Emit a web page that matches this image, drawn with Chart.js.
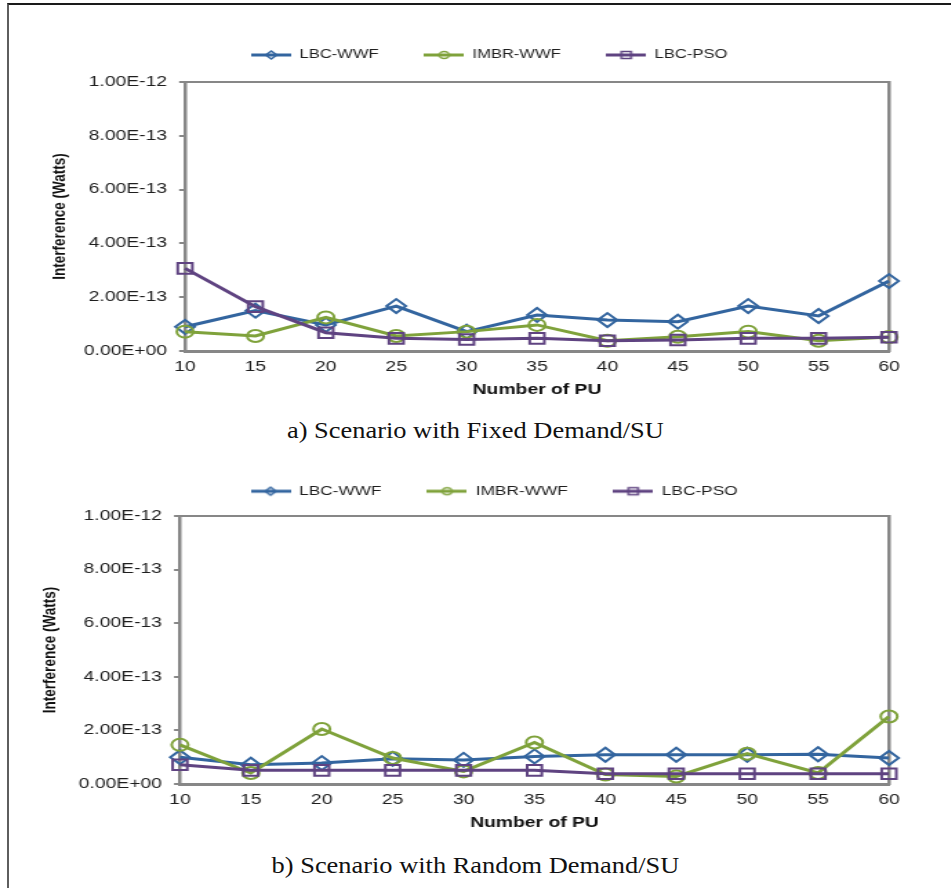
<!DOCTYPE html>
<html>
<head>
<meta charset="utf-8">
<script src="https://cdn.jsdelivr.net/npm/chart.js@4.4.1/dist/chart.umd.min.js"></script>
<style>
    html, body { margin: 0; padding: 0; background: #fff; width: 951px; height: 888px; overflow: hidden; }
    .frame { position: absolute; left: 7px; top: 3px; right: -20px; bottom: -20px; border-top: 2px solid #1a1a1a; border-left: 2px solid #5e5e5e; }
    .panel { position: absolute; left: 0; transform-origin: 0 0; transform: scaleX(1.38); }
    .caption { position: absolute; left: 0; width: 951px; text-align: center; font-family: 'Liberation Serif', 'Times New Roman', serif; font-size: 24px; line-height: 28px; color: #111; transform: scaleX(1.1); transform-origin: 476px 0; }
</style>
</head>
<body>
<div class="frame"></div>
<div class="panel" style="top:0px;width:709px;height:401px"><canvas id="chartFixed"></canvas></div>
<div class="caption" style="top:416px">a) Scenario with Fixed Demand/SU</div>
<div class="panel" style="top:440px;width:716px;height:394px"><canvas id="chartRandom"></canvas></div>
<div class="caption" style="top:851px">b) Scenario with Random Demand/SU</div>
<script>
// number of primary users (x axis)
const puValues = [10, 15, 20, 25, 30, 35, 40, 45, 50, 55, 60];

// a) fixed demand / SU
const fixedLbcWwf = [0.90e-13, 1.50e-13, 0.97e-13, 1.67e-13, 0.72e-13, 1.34e-13, 1.15e-13, 1.09e-13, 1.67e-13, 1.30e-13, 2.60e-13];
const fixedImbrWwf = [0.72e-13, 0.56e-13, 1.25e-13, 0.56e-13, 0.72e-13, 0.97e-13, 0.38e-13, 0.53e-13, 0.72e-13, 0.38e-13, 0.52e-13];
const fixedLbcPso = [3.07e-13, 1.65e-13, 0.68e-13, 0.47e-13, 0.43e-13, 0.47e-13, 0.38e-13, 0.41e-13, 0.47e-13, 0.47e-13, 0.51e-13];

// b) random demand / SU
const randomLbcWwf = [1.00e-13, 0.72e-13, 0.78e-13, 0.94e-13, 0.90e-13, 1.03e-13, 1.09e-13, 1.09e-13, 1.09e-13, 1.11e-13, 0.97e-13];
const randomImbrWwf = [1.46e-13, 0.41e-13, 2.05e-13, 0.97e-13, 0.47e-13, 1.55e-13, 0.35e-13, 0.28e-13, 1.13e-13, 0.41e-13, 2.52e-13];
const randomLbcPso = [0.72e-13, 0.51e-13, 0.51e-13, 0.51e-13, 0.51e-13, 0.51e-13, 0.38e-13, 0.38e-13, 0.38e-13, 0.38e-13, 0.38e-13];

const yTicks = [0, 2e-13, 4e-13, 6e-13, 8e-13, 1e-12];

const seriesNames = ['LBC-WWF', 'IMBR-WWF', 'LBC-PSO'];
const seriesColors = ['#33659f', '#7fa23b', '#5f4381'];
const seriesMarkers = ['rectRot', 'circle', 'rect'];
const markerRadius = [7, 6, 7.5];

const axisGray = '#878787';
const textColor = '#1e1e1e';
const PLOT_RIGHT = 644.2;

Chart.defaults.font.family = "'Liberation Sans', Arial, sans-serif";

const formatSci = (v) => {
    const [m, e] = Number(v).toExponential(2).split('e');
    const sign = e[0] === '-' ? '-' : '+';
    return m + 'E' + sign + e.replace(/[+-]/, '').padStart(2, '0');
};

// line + marker sample, like the excel legend
const makeLegendIcon = (color, marker) => {
    const icon = document.createElement('canvas');
    icon.width = 29;
    icon.height = 12;
    const ctx = icon.getContext('2d');
    ctx.strokeStyle = color;
    ctx.lineWidth = 3;
    ctx.beginPath();
    ctx.moveTo(0, 6);
    ctx.lineTo(29, 6);
    ctx.stroke();
    ctx.lineWidth = 1.5;
    ctx.beginPath();
    if (marker === 'rectRot') {
        ctx.moveTo(14.5, 2); ctx.lineTo(18.5, 6); ctx.lineTo(14.5, 10); ctx.lineTo(10.5, 6); ctx.closePath();
    } else if (marker === 'circle') {
        ctx.arc(14.5, 6, 3.5, 0, Math.PI * 2);
    } else {
        ctx.rect(11, 2.5, 7, 7);
    }
    ctx.stroke();
    return icon;
};
const legendIcons = seriesColors.map((c, i) => makeLegendIcon(c, seriesMarkers[i]));

const legendHeight = (h) => ({
    id: 'legendHeight',
    beforeInit(chart) {
        const fit = chart.legend.fit;
        chart.legend.fit = function () {
            fit.call(this);
            this.height = h;
        };
    }
});

const createConfig = (series, lay) => ({
    type: 'line',
    data: {
        labels: puValues,
        datasets: series.map((values, i) => ({
            label: seriesNames[i],
            data: values,
            borderColor: seriesColors[i],
            borderWidth: 3,
            tension: 0,
            pointStyle: seriesMarkers[i],
            pointRadius: markerRadius[i],
            pointBorderWidth: 2,
            pointBorderColor: seriesColors[i],
            pointBackgroundColor: 'rgba(0,0,0,0)',
            clip: false,
            order: 3 - i
        }))
    },
    plugins: [legendHeight(lay.legendHeight)],
    options: {
        responsive: true,
        maintainAspectRatio: false,
        animation: false,
        layout: { padding: { top: lay.padTop, left: 0, right: 0, bottom: 0 } },
        plugins: {
            tooltip: { enabled: false },
            legend: {
                position: 'top',
                align: 'center',
                fullSize: true,
                labels: {
                    usePointStyle: true,
                    pointStyleWidth: 29,
                    boxHeight: 12,
                    padding: 33,
                    color: textColor,
                    font: { size: lay.legendFont },
                    generateLabels: (chart) => Chart.defaults.plugins.legend.labels.generateLabels(chart)
                        .map(item => ({ ...item, pointStyle: legendIcons[item.datasetIndex] })),
                    sort: (a, b) => a.datasetIndex - b.datasetIndex
                }
            }
        },
        scales: {
            x: {
                type: 'category',
                position: 'bottom',
                offset: false,
                grid: { display: true, drawOnChartArea: false, color: 'rgba(0,0,0,0)', tickLength: 5 },
                border: { color: axisGray, width: 3 },
                ticks: { color: textColor, font: { size: 14 }, padding: 3, maxRotation: 0, autoSkip: false },
                title: {
                    display: true,
                    text: 'Number of PU',
                    color: '#111',
                    font: { size: 14, weight: 'bold' },
                    padding: { top: 0, bottom: lay.xTitlePad }
                },
                afterFit: (s) => { s.height = 50; }
            },
            xTop: {
                type: 'category',
                position: 'top',
                offset: false,
                grid: { display: false },
                ticks: { display: false },
                border: { color: axisGray, width: 2 },
                afterFit: (s) => { s.height = 0; }
            },
            y: {
                type: 'linear',
                position: 'left',
                min: 0,
                max: 1e-12,
                afterBuildTicks: (s) => { s.ticks = yTicks.map(v => ({ value: v })); },
                ticks: { color: textColor, font: { size: 14 }, padding: 8.7, callback: (v) => formatSci(v) },
                grid: { display: true, drawOnChartArea: false, color: axisGray, lineWidth: 2, tickLength: 4.3 },
                border: { color: axisGray, width: 2.5 },
                title: {
                    display: true,
                    text: 'Interference (Watts)',
                    color: '#111',
                    font: { size: 13.5, weight: 'bold' },
                    padding: { top: lay.yTitlePad, bottom: 0 }
                },
                afterFit: (s) => { s.width = lay.yAxisWidth; }
            },
            yRight: {
                type: 'linear',
                position: 'right',
                grid: { display: false },
                ticks: { display: false },
                border: { color: axisGray, width: 2.5 },
                afterFit: (s) => { s.width = lay.width - PLOT_RIGHT; }
            }
        }
    }
});

new Chart(document.getElementById('chartFixed'), createConfig(
    [fixedLbcWwf, fixedImbrWwf, fixedLbcPso],
    { width: 709, padTop: 16, legendHeight: 66, legendFont: 12, xTitlePad: 2.6, yTitlePad: 35.1, yAxisWidth: 134.1 }
));

new Chart(document.getElementById('chartRandom'), createConfig(
    [randomLbcWwf, randomImbrWwf, randomLbcPso],
    { width: 716, padTop: 12, legendHeight: 64, legendFont: 12.5, xTitlePad: 2.9, yTitlePad: 28.6, yAxisWidth: 130.4 }
));
</script>
</body>
</html>
